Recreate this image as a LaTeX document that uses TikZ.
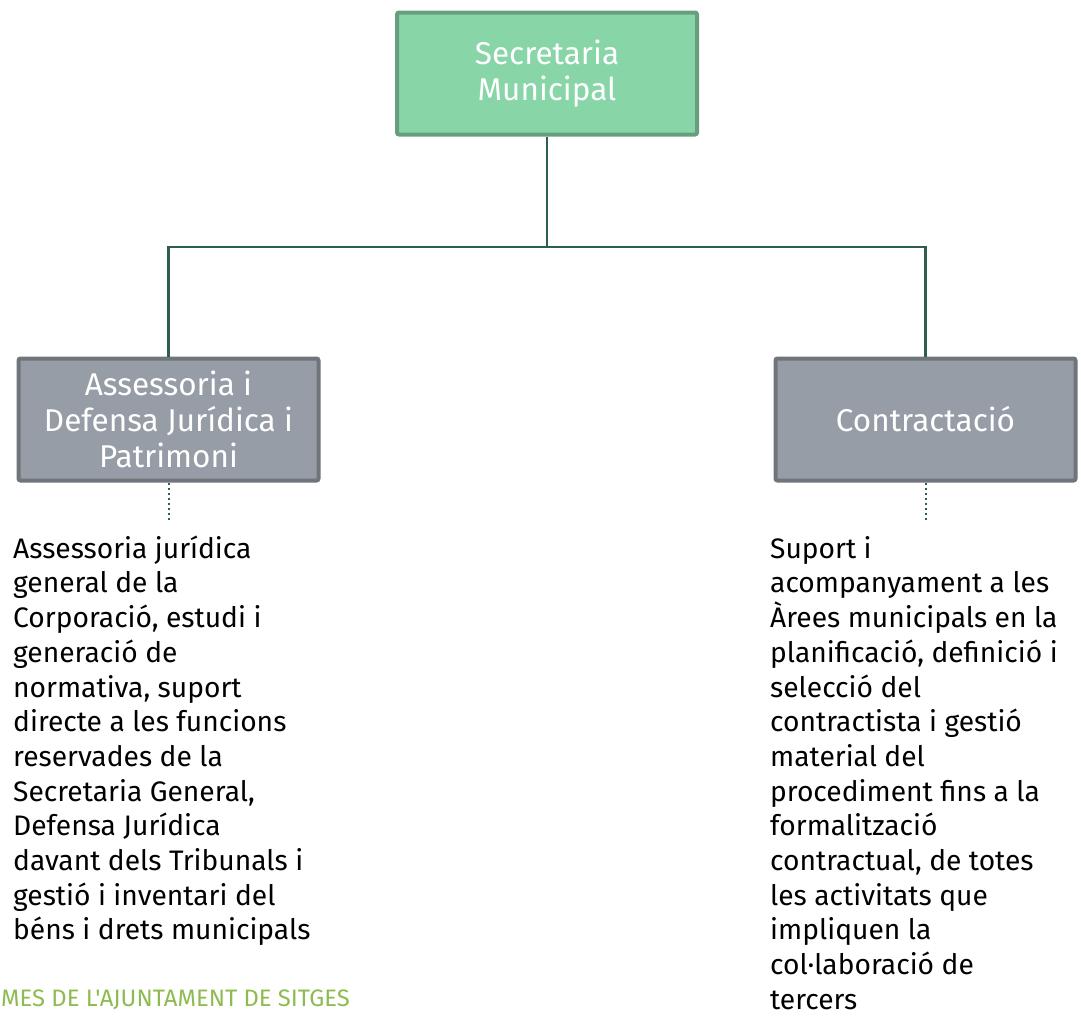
\documentclass[tikz,border=0pt]{standalone}
\usepackage{fontspec}
\setmainfont{Fira Sans}
\newfontfamily\footfont{Fira Sans}[Ligatures=TeXOff]
\definecolor{topfill}{HTML}{88D5A8}
\definecolor{topdraw}{HTML}{669E7E}
\definecolor{grayfill}{HTML}{969DA6}
\definecolor{graydraw}{HTML}{6F757B}
\definecolor{linkcol}{HTML}{2E5E50}
\definecolor{footcol}{HTML}{8DBB4F}
\tikzset{
  unitbox/.style={draw, line width=4pt, rounded corners=2pt, minimum width=300pt, minimum height=122pt,
    text=white, align=center, inner sep=0pt, font=\fontsize{31.5}{36}\selectfont},
  topbox/.style={unitbox, fill=topfill, draw=topdraw},
  subbox/.style={unitbox, fill=grayfill, draw=graydraw},
  link/.style={draw=linkcol, line width=2.6pt},
  dotlink/.style={draw=linkcol, line width=2pt, dash pattern=on 2pt off 3pt},
  bodytext/.style={anchor=north west, align=left, inner sep=0pt, font=\fontsize{28.2}{34.7}\selectfont, text=black},
}
\begin{document}
\begin{tikzpicture}[x=1pt,y=-1pt]
\useasboundingbox (0,0) rectangle (1081,1017);
\node[topbox] (sec) at (547,73.5) {Secretaria\\Municipal};
\node[subbox] (ass) at (168.5,419.5) {Assessoria i\\Defensa Jurídica i\\Patrimoni};
\node[subbox] (con) at (925.5,419.5) {Contractació};
\coordinate (hub) at (547,247);
\coordinate (hl) at (168.5,247);
\coordinate (hr) at (925.5,247);
\draw[link] (sec.south) -- (hub);
\draw[link] (ass.north) -- (hl) -- (hr) -- (con.north);
\coordinate (dl) at (168.5,522);
\coordinate (dr) at (925.5,522);
\draw[dotlink] (ass.south) -- (dl);
\draw[dotlink] (con.south) -- (dr);
\node[bodytext] (asstxt) at (13,532) {\rule{0pt}{26pt}Assessoria jurídica\\general de la\\Corporació, estudi i\\generació de\\normativa, suport\\directe a les funcions\\reservades de la\\Secretaria General,\\Defensa Jurídica\\davant dels Tribunals i\\gestió i inventari del\\béns i drets municipals};
\node[bodytext] (context) at (770,532) {\rule{0pt}{26pt}Suport i\\acompanyament a les\\Àrees municipals en la\\planificació, definició i\\selecció del\\contractista i gestió\\material del\\procediment fins a la\\formalització\\contractual, de totes\\les activitats que\\impliquen la\\col·laboració de\\tercers};
\node[anchor=base west, inner sep=0pt, text=footcol, font=\footfont\fontsize{23.8}{28}\selectfont] (foot) at (1,1006) {MES DE L'AJUNTAMENT DE SITGES};
\end{tikzpicture}
\end{document}
